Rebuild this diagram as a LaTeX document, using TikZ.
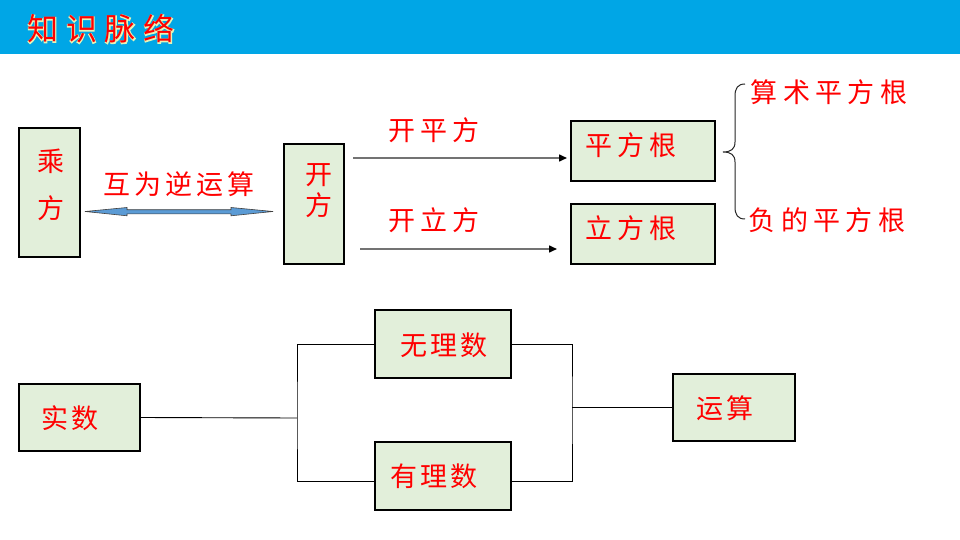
\documentclass[tikz,border=0pt]{standalone}
\usepackage{fontspec}
\newfontfamily\cjk{Noto Sans CJK SC}
\newfontfamily\cjkglow[FakeBold=5]{Noto Sans CJK SC}
\usetikzlibrary{arrows.meta}
\definecolor{barblue}{HTML}{00A6E6}
\definecolor{boxgreen}{HTML}{E2EFDA}
\definecolor{txtred}{HTML}{FF0000}
\definecolor{arrblue}{HTML}{5B9BD5}
\definecolor{glowc}{HTML}{E4F4B8}
\newcommand\cjsp{\hspace{0.2em}}
\newcommand\ttltext{知\hspace{0.25em}识\hspace{0.25em}脉\hspace{0.25em}络}
\begin{document}
\begin{tikzpicture}[x=1pt,y=-1pt,
 box/.style={draw=black, line width=1.1pt, fill=boxgreen, inner sep=0pt},
 lbl/.style={text=txtred, font=\cjk\fontsize{27}{27}\selectfont, inner sep=0pt},
 ttl/.style={font=\fontsize{31}{31}\selectfont, inner sep=0pt},
 conn/.style={draw=black, line width=0.9pt},
 arr/.style={draw=black!55, line width=1.5pt, -{Triangle[length=8pt,width=7pt,color=black]}}
]
\useasboundingbox (0,0) rectangle (960,540);
\fill[white] (0,0) rectangle (960,540);
\fill[barblue] (0,0) rectangle (960,54);
% title with glow (glow layer inside the same node)
\node[ttl] (title) at (101,29) {\rlap{\cjkglow\color{glowc}\ttltext}{\cjk\color{txtred}\ttltext}};

% boxes
\node[box, minimum width=61, minimum height=129] (cf) at (49.5,192.5) {};
\node[box, minimum width=60, minimum height=120] (kf) at (314,204) {};
\node[box, minimum width=144, minimum height=60] (pfg) at (643,151) {};
\node[box, minimum width=144, minimum height=60] (lfg) at (643,234) {};
\node[box, minimum width=121, minimum height=67] (ss) at (79.5,417.5) {};
\node[box, minimum width=136, minimum height=68] (wl) at (443,344) {};
\node[box, minimum width=136, minimum height=68] (yl) at (443,476) {};
\node[box, minimum width=122, minimum height=67] (ys) at (734,407.5) {};

% texts
\node[lbl] (cfa) at (51,161) {乘};
\node[lbl] (cfb) at (51,208) {方};
\node[lbl] (kfa) at (319,175) {开};
\node[lbl] (kfb) at (319,205) {方};
\node[lbl] (hw) at (179,184) {互\hspace{0.15em}为\hspace{0.15em}逆\hspace{0.15em}运\hspace{0.15em}算};
\node[lbl] (kpf) at (434,130) {开\cjsp 平\cjsp 方};
\node[lbl] (klf) at (434,220) {开\cjsp 立\cjsp 方};
\node[lbl] (pfgt) at (631,145) {平\cjsp 方\cjsp 根};
\node[lbl] (lfgt) at (631,228) {立\cjsp 方\cjsp 根};
\node[lbl] (sspf) at (829,92) {算\cjsp 术\cjsp 平\cjsp 方\cjsp 根};
\node[lbl] (fpf) at (827,220) {负\cjsp 的\cjsp 平\cjsp 方\cjsp 根};
\node[lbl] (wlt) at (444,345) {无\hspace{0.1em}理\hspace{0.1em}数};
\node[lbl] (ylt) at (434,476) {有\hspace{0.1em}理\hspace{0.1em}数};
\node[lbl] (sst) at (70,418) {实\hspace{0.12em}数};
\node[lbl] (yst) at (725,408) {运\hspace{0.12em}算};

% double arrow
\coordinate (dl) at (85,211.5);
\coordinate (dr) at (273,211.5);
\filldraw[fill=arrblue, draw=black!75, line width=0.6pt]
  (dl) -- ++(42,-4) -- ++(0,2.2) -- ++(104,0) -- ++(0,-2.2) -- (dr)
  -- ++(-42,4.3) -- ++(0,-2) -- ++(-104,0) -- ++(0,2) -- cycle;

% arrows to roots
\coordinate (a1s) at (353,158);
\coordinate (a1e) at (567,158);
\coordinate (a2s) at (360,249);
\coordinate (a2e) at (557,249);
\draw[arr] (a1s) -- (a1e);
\draw[arr] (a2s) -- (a2e);

% brace
\draw[black!85, line width=1pt] (745,84) .. controls (738,84) and (735,88) .. (735,96) -- (735,142)
  .. controls (735,149) and (731,152) .. (723,152)
  .. controls (731,152) and (735,155) .. (735,162) -- (735,207)
  .. controls (735,215) and (738,219) .. (745,219);

% bottom connectors
\coordinate (j1) at (297,418);
\coordinate (j2) at (572,407.5);
\draw[conn] (ss.east) -- (j1);
\draw[conn] (wl.west) -| (j1) |- ([yshift=-5pt]yl.west);
\draw[conn] (wl.east) -| (j2) |- ([yshift=-5pt]yl.east);
\draw[conn] (j2) -- (ys.west);
\end{tikzpicture}
\end{document}
